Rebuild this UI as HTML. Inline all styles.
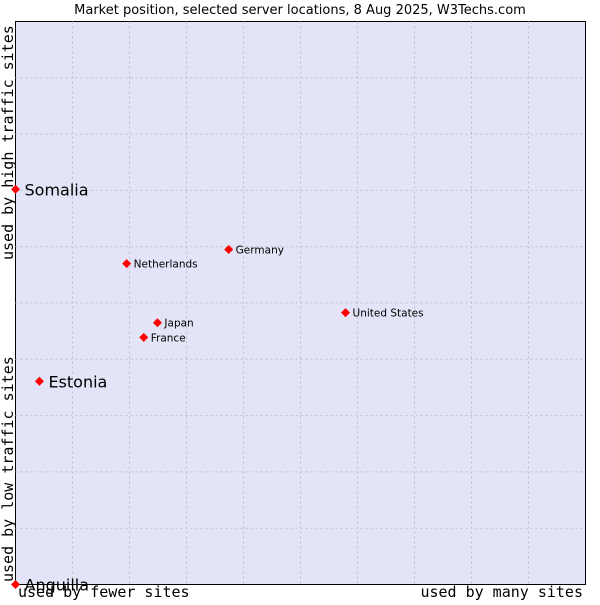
<!DOCTYPE html>
<html><head><meta charset="utf-8"><style>
body{margin:0;background:#fff;width:600px;height:600px;overflow:hidden}
svg text{font-family:"DejaVu Sans","Liberation Sans",sans-serif}
.mono{font-family:"DejaVu Sans Mono","Liberation Mono",monospace}
</style></head><body>
<svg id="c" width="600" height="600">
<text x="300" y="14" text-anchor="middle" font-size="13" fill="#000">Market position, selected server locations, 8 Aug 2025, W3Techs.com</text>
<rect x="15.5" y="21.5" width="570" height="563" fill="#e4e4f8" stroke="#000"/>
<g id="grid"></g>
<g id="marks"></g>
<text class="mono" x="0" y="0" transform="translate(13,260) rotate(-90)" font-size="15">used by high traffic sites</text>
<text class="mono" x="0" y="0" transform="translate(13,582) rotate(-90)" font-size="15">used by low traffic sites</text>
<text class="mono" x="18" y="597" font-size="15">used by fewer sites</text>
<text class="mono" x="583" y="597" text-anchor="end" font-size="15">used by many sites</text>
</svg>
<script>
const countries=["Somalia","Estonia","Anguilla","Netherlands","Germany","United States","Japan","France"];
const xVals=[0,4.2,0,19.5,37.4,57.9,24.9,22.5];
const yVals=[70.2,36.1,0,57,59.5,48.3,46.5,43.9];
const bigLabel=[true,true,true,false,false,false,false,false];
const L=15.5,R=585.5,T=21.5,B=584.5;
const xs=v=>L+v/100*(R-L), ys=v=>B-v/100*(B-T);
const NS="http://www.w3.org/2000/svg";
const g=document.getElementById('grid'), m=document.getElementById('marks');
for(let i=1;i<10;i++){
  const v=i*10;
  const a=document.createElementNS(NS,'line');
  a.setAttribute('x1',xs(v));a.setAttribute('x2',xs(v));a.setAttribute('y1',T);a.setAttribute('y2',B);
  a.setAttribute('stroke','#c0c0c0');a.setAttribute('stroke-dasharray','2,3');
  
  
  g.appendChild(a);
  const b=document.createElementNS(NS,'line');
  b.setAttribute('y1',ys(v));b.setAttribute('y2',ys(v));b.setAttribute('x1',L);b.setAttribute('x2',R);
  b.setAttribute('stroke','#c0c0c0');b.setAttribute('stroke-dasharray','2,3');
  
  
  g.appendChild(b);
}
countries.forEach((c,i)=>{
  const x=xs(xVals[i]), y=ys(yVals[i]);
  const p=document.createElementNS(NS,'polygon');
  p.setAttribute('points',`${x},${y-4.5} ${x+4.5},${y} ${x},${y+4.5} ${x-4.5},${y}`);
  p.setAttribute('fill','#f00');
  
  
  m.appendChild(p);
  const t=document.createElementNS(NS,'text');
  t.setAttribute('x',x+(bigLabel[i]?9:7));
  t.setAttribute('y',y+(bigLabel[i]?6:4));
  t.setAttribute('font-size',bigLabel[i]?16:10.5);
  t.textContent=c;
  
  
  m.appendChild(t);
});
</script>
</body></html>
